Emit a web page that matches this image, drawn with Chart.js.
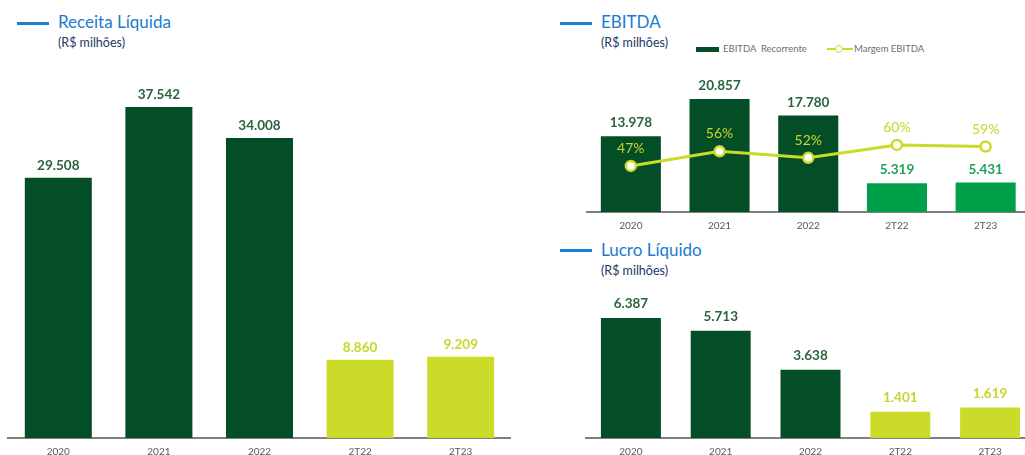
<!DOCTYPE html>
<html>
<head>
<meta charset="utf-8">
<script src="https://cdn.jsdelivr.net/npm/chart.js@4/dist/chart.umd.min.js"></script>
<style>
  html, body { margin: 0; padding: 0; background: #fff; }
  body { width: 1025px; height: 455px; overflow: hidden; position: relative; font-family: Lato, sans-serif; }
  canvas { position: absolute; }
  .bar-line { position: absolute; width: 32px; height: 3px; background: #1b7fd4; }
  .ttl { position: absolute; font-size: 17px; line-height: 17px; color: #1b7bd1; white-space: nowrap; }
  .sub { position: absolute; font-size: 12.5px; line-height: 12.5px; color: #203864; white-space: nowrap; }
  .leg { position: absolute; font-size: 9.5px; line-height: 12px; color: #6f6f6f; white-space: pre; }
</style>
</head>
<body>

<!-- Receita Liquida header -->
<div class="bar-line" style="left:17px; top:22px;"></div>
<div class="ttl" style="left:58px; top:13px;">Receita Líquida</div>
<div class="sub" style="left:58px; top:37px;">(R$ milhões)</div>

<!-- EBITDA header + legend -->
<div class="bar-line" style="left:560px; top:22px;"></div>
<div class="ttl" style="left:601px; top:13px;">EBITDA</div>
<div class="sub" style="left:601px; top:37px;">(R$ milhões)</div>
<div style="position:absolute; left:696px; top:47px; width:23px; height:5px; background:#034e26;"></div>
<div class="leg" style="left:723px; top:43px;">EBITDA  Recorrente</div>
<div style="position:absolute; left:827px; top:48px; width:26px; height:2px; background:#cbdb2a;"></div>
<div style="position:absolute; left:835px; top:45px; width:6px; height:6px; border:1.5px solid #cbdb2a; border-radius:50%; background:#fff;"></div>
<div class="leg" style="left:854px; top:43px;">Margem EBITDA</div>

<!-- Lucro Liquido header -->
<div class="bar-line" style="left:560px; top:249px;"></div>
<div class="ttl" style="left:601px; top:241px;">Lucro Líquido</div>
<div class="sub" style="left:601px; top:265px;">(R$ milhões)</div>

<canvas id="receitaChart" width="511" height="406" style="left:0; top:60px;"></canvas>
<canvas id="ebitdaChart" width="470" height="180" style="left:560px; top:60px;"></canvas>
<canvas id="lucroChart" width="475" height="176" style="left:560px; top:290px;"></canvas>

<script>
// ============================================
// DATA
// ============================================
const categories = ['2020', '2021', '2022', '2T22', '2T23'];
const receita = [29508, 37542, 34008, 8860, 9209];
const ebitda = [13978, 20857, 17780, 5319, 5431];
const margem = [47, 56, 52, 60, 59];
const lucro = [6387, 5713, 3638, 1401, 1619];

// colours
const DARK = '#034e26';
const LIME = '#cbdb2a';
const BRIGHT = '#00a04b';
const DARK_TXT = '#2b6340';
const LIME_TXT = '#c6d62c';
const BRIGHT_TXT = '#1ea457';

Chart.defaults.font.family = 'Lato, sans-serif';
Chart.defaults.animation = false;

function fmtBR(v) {
    return String(v).replace(/\B(?=(\d{3})+(?!\d))/g, '.');
}

// draws the numbers above bars / points
const valueLabels = {
    id: 'valueLabels',
    afterDatasetsDraw(chart) {
        const ctx = chart.ctx;
        chart.data.datasets.forEach((ds, i) => {
            if (!ds.lbl) return;
            const meta = chart.getDatasetMeta(i);
            ctx.save();
            ctx.font = ds.lbl.font;
            ctx.textAlign = 'center';
            ctx.textBaseline = 'alphabetic';
            meta.data.forEach((el, j) => {
                ctx.fillStyle = ds.lbl.colors[j];
                ctx.fillText(ds.lbl.fmt(ds.data[j]), el.x, el.y - ds.lbl.gap);
            });
            ctx.restore();
        });
    }
};

function xAxis() {
    return {
        grid: { display: false, drawTicks: false },
        border: { display: true, color: '#7f7f7f', width: 2 },
        ticks: { color: '#595959', font: { size: 10 }, padding: 8 }
    };
}

function baseOptions(padLeft, yMax) {
    return {
        responsive: false,
        animation: false,
        layout: { autoPadding: false, padding: { left: padLeft, right: 0, top: 0, bottom: 0 } },
        plugins: { legend: { display: false }, tooltip: { enabled: false } },
        scales: {
            x: xAxis(),
            y: { display: false, min: 0, max: yMax }
        }
    };
}

const barColors = [DARK, DARK, DARK, LIME, LIME];
const boldFont = 'bold 13.5px Lato, sans-serif';

// Receita Liquida
new Chart(document.getElementById('receitaChart'), {
    type: 'bar',
    data: {
        labels: categories,
        datasets: [{
            data: receita,
            backgroundColor: barColors,
            categoryPercentage: 1,
            barPercentage: 0.666,
            lbl: { font: boldFont, gap: 8, fmt: fmtBR, colors: [DARK_TXT, DARK_TXT, DARK_TXT, LIME_TXT, LIME_TXT] }
        }]
    },
    options: baseOptions(8, 42860),
    plugins: [valueLabels]
});

// EBITDA + margem
const ebitdaOpts = baseOptions(26.5, 28040);
ebitdaOpts.scales.y2 = { display: false, min: 18.5, max: 112.5 };
new Chart(document.getElementById('ebitdaChart'), {
    type: 'bar',
    data: {
        labels: categories,
        datasets: [{
            type: 'line',
            data: margem,
            yAxisID: 'y2',
            order: 0,
            borderColor: LIME,
            borderWidth: 3,
            pointRadius: 5,
            pointBackgroundColor: '#fff',
            pointBorderColor: LIME,
            pointBorderWidth: 2.5,
            tension: 0,
            lbl: { font: '14px Lato, sans-serif', gap: 13, fmt: v => v + '%', colors: Array(5).fill(LIME_TXT) }
        }, {
            data: ebitda,
            yAxisID: 'y',
            order: 1,
            backgroundColor: [DARK, DARK, DARK, BRIGHT, BRIGHT],
            categoryPercentage: 1,
            barPercentage: 0.677,
            lbl: { font: boldFont, gap: 9, fmt: fmtBR, colors: [DARK_TXT, DARK_TXT, DARK_TXT, BRIGHT_TXT, BRIGHT_TXT] }
        }]
    },
    options: ebitdaOpts,
    plugins: [valueLabels]
});

// Lucro Liquido
new Chart(document.getElementById('lucroChart'), {
    type: 'bar',
    data: {
        labels: categories,
        datasets: [{
            data: lucro,
            backgroundColor: barColors,
            categoryPercentage: 1,
            barPercentage: 0.668,
            lbl: { font: boldFont, gap: 10, fmt: fmtBR, colors: [DARK_TXT, DARK_TXT, DARK_TXT, LIME_TXT, LIME_TXT] }
        }]
    },
    options: baseOptions(26, 7877),
    plugins: [valueLabels]
});
</script>
</body>
</html>
